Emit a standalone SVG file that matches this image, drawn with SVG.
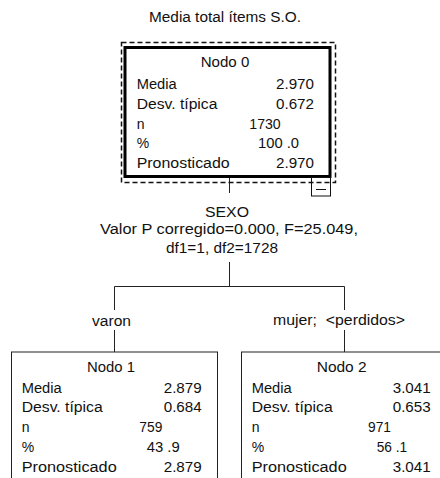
<svg xmlns="http://www.w3.org/2000/svg" width="440" height="478" viewBox="0 0 440 478">
<style>
text{font-family:"Liberation Sans",Arial,sans-serif;font-size:14px;fill:#111}
.m{text-anchor:middle}
.e{text-anchor:end}
.ln{stroke:#222;stroke-width:1;fill:none}
.box{fill:#fff;stroke:#222;stroke-width:1}
</style>
<rect width="440" height="478" fill="#fff"/>
<text x="225" y="22" class="m" textLength="152" lengthAdjust="spacingAndGlyphs">Media total ítems S.O.</text>
<g id="connectors">
<path class="ln" d="M229.5 178V193M229.5 262V286.5M114.5 286.5H344.5M114.5 286.5V310M344.5 286.5V310M114.5 330V352M344.5 330V352"/>
<text x="227" y="216.7" class="m" textLength="44" lengthAdjust="spacingAndGlyphs">SEXO</text>
<text x="229" y="234" class="m" textLength="258" lengthAdjust="spacingAndGlyphs">Valor P corregido=0.000, F=25.049,</text>
<text x="222" y="253" class="m" textLength="112" lengthAdjust="spacingAndGlyphs">df1=1, df2=1728</text>
<text x="111.5" y="326" class="m" textLength="39" lengthAdjust="spacingAndGlyphs">varon</text>
<text x="339" y="325" class="m" textLength="132" lengthAdjust="spacingAndGlyphs">mujer;&#160; &lt;perdidos&gt;</text>
</g>
<g id="node0">
<rect x="121.5" y="42.5" width="214" height="140" fill="none" stroke="#111" stroke-width="1.5" stroke-dasharray="5 3"/>
<rect x="125" y="47.5" width="205" height="129" fill="#fff" stroke="#000" stroke-width="3"/>
<rect x="311.5" y="177.5" width="19" height="18.5" fill="none" stroke="#111" stroke-width="1"/>
<path d="M316 189.5H326" stroke="#111" stroke-width="1"/>
<text x="225" y="67.3" class="m" textLength="48.6" lengthAdjust="spacingAndGlyphs">Nodo 0</text>
<text x="136.7" y="89.3" textLength="40" lengthAdjust="spacingAndGlyphs">Media</text>
<text x="314" y="89.3" class="e" textLength="38" lengthAdjust="spacingAndGlyphs">2.970</text>
<text x="136.7" y="109" textLength="80.7" lengthAdjust="spacingAndGlyphs">Desv. típica</text>
<text x="314" y="109" class="e" textLength="38" lengthAdjust="spacingAndGlyphs">0.672</text>
<text x="136.7" y="128.7">n</text>
<text x="249.3" y="128.7" textLength="31.4" lengthAdjust="spacingAndGlyphs">1730</text>
<text x="136.7" y="148.4">%</text>
<text x="258" y="148.4" textLength="41" lengthAdjust="spacingAndGlyphs">100 .0</text>
<text x="136.7" y="168" textLength="93" lengthAdjust="spacingAndGlyphs">Pronosticado</text>
<text x="314" y="168" class="e" textLength="38" lengthAdjust="spacingAndGlyphs">2.970</text>
</g>
<g id="node1">
<rect class="box" x="11.5" y="352" width="206" height="140"/>
<text x="111" y="371.7" class="m" textLength="48" lengthAdjust="spacingAndGlyphs">Nodo 1</text>
<text x="21.7" y="392.7" textLength="40" lengthAdjust="spacingAndGlyphs">Media</text>
<text x="201.7" y="392.7" class="e" textLength="38" lengthAdjust="spacingAndGlyphs">2.879</text>
<text x="21.7" y="412.3" textLength="81" lengthAdjust="spacingAndGlyphs">Desv. típica</text>
<text x="201.7" y="412.3" class="e" textLength="38" lengthAdjust="spacingAndGlyphs">0.684</text>
<text x="21.7" y="431.7">n</text>
<text x="139.3" y="431.7" textLength="23" lengthAdjust="spacingAndGlyphs">759</text>
<text x="21.7" y="451.7">%</text>
<text x="146.7" y="451.7" textLength="33" lengthAdjust="spacingAndGlyphs">43 .9</text>
<text x="21.7" y="471.7" textLength="95" lengthAdjust="spacingAndGlyphs">Pronosticado</text>
<text x="201.7" y="471.7" class="e" textLength="38" lengthAdjust="spacingAndGlyphs">2.879</text>
</g>
<g id="node2">
<rect class="box" x="241.5" y="352" width="206" height="140"/>
<text x="341.7" y="371.7" class="m" textLength="50" lengthAdjust="spacingAndGlyphs">Nodo 2</text>
<text x="251.7" y="392.7" textLength="40" lengthAdjust="spacingAndGlyphs">Media</text>
<text x="430.7" y="392.7" class="e" textLength="38" lengthAdjust="spacingAndGlyphs">3.041</text>
<text x="251.7" y="412.3" textLength="81" lengthAdjust="spacingAndGlyphs">Desv. típica</text>
<text x="430.7" y="412.3" class="e" textLength="38" lengthAdjust="spacingAndGlyphs">0.653</text>
<text x="251.7" y="431.7">n</text>
<text x="368" y="431.7" textLength="23" lengthAdjust="spacingAndGlyphs">971</text>
<text x="251.7" y="451.7">%</text>
<text x="376.7" y="451.7" textLength="30.5" lengthAdjust="spacingAndGlyphs">56 .1</text>
<text x="251.7" y="471.7" textLength="95" lengthAdjust="spacingAndGlyphs">Pronosticado</text>
<text x="430.7" y="471.7" class="e" textLength="38" lengthAdjust="spacingAndGlyphs">3.041</text>
</g>
</svg>
